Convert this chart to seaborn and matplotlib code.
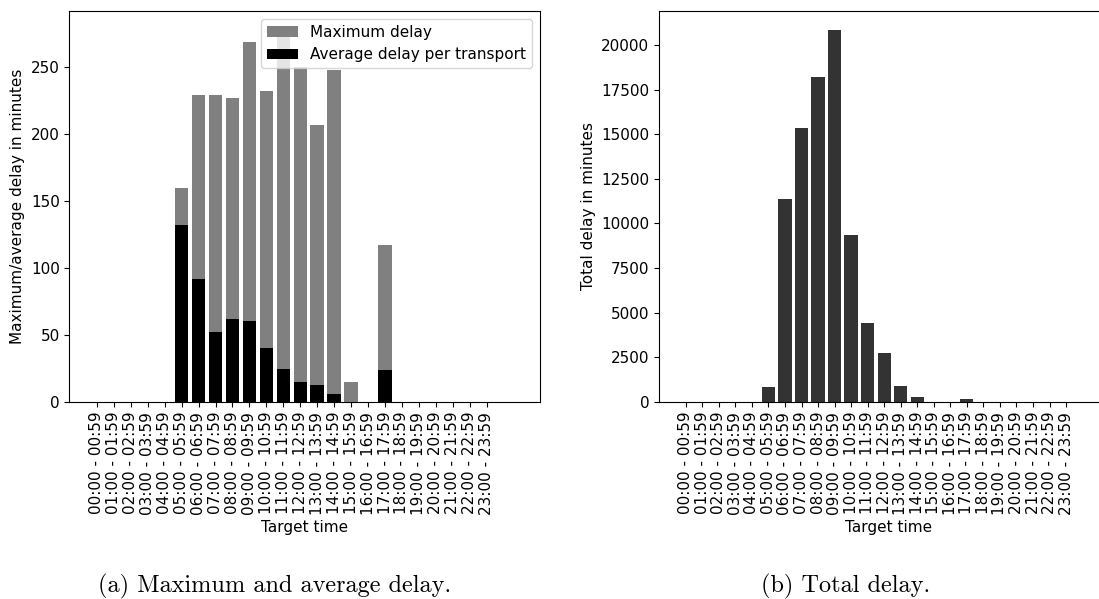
import matplotlib
matplotlib.use("Agg")
import matplotlib.pyplot as plt
import seaborn as sns
import pandas as pd

hours = [f"{h:02d}:00 - {h:02d}:59" for h in range(24)]
max_delay = [0, 0, 0, 0, 0, 160, 229, 229, 227, 269, 232, 278, 250, 207, 248, 15, 0, 117, 0, 0, 0, 0, 0, 0]
avg_delay = [0, 0, 0, 0, 0, 132.5, 91.5, 52, 61.7, 60.2, 40, 25, 14.7, 12.4, 5.7, 0, 0, 23.6, 0, 0, 0, 0, 0, 0]
total_delay = [0, 0, 0, 0, 0, 821, 11343, 15373, 18228, 20858, 9328, 4403, 2724, 877, 261, 0, 0, 149, 0, 0, 0, 0, 0, 0]

df = pd.DataFrame({"time": hours, "max": max_delay, "avg": avg_delay, "total": total_delay})

plt.rcParams["font.family"] = ["DejaVu Sans"]
plt.rcParams["font.size"] = 11

fig = plt.figure(figsize=(10.99, 5.99), dpi=100)
ax1 = fig.add_axes([0.0632, 0.3289, 0.4281, 0.6528])
ax2 = fig.add_axes([0.5996, 0.3289, 0.4177, 0.6528])

sns.barplot(data=df, x="time", y="max", color="gray", saturation=1, width=0.8,
            label="Maximum delay", ax=ax1, errorbar=None)
sns.barplot(data=df, x="time", y="avg", color="black", saturation=1, width=0.8,
            label="Average delay per transport", ax=ax1, errorbar=None)
ax1.set_xlim(-1.62, 26.14)
ax1.set_ylim(0, 292)
ax1.set_xlabel("Target time")
ax1.set_ylabel("Maximum/average delay in minutes")
ax1.tick_params(axis="x", rotation=90)
ax1.legend(loc="upper right", framealpha=0.8)

sns.barplot(data=df, x="time", y="total", color="#333333", saturation=1, width=0.8,
            ax=ax2, errorbar=None)
ax2.set_xlim(-1.62, 26.14)
ax2.set_ylim(0, 21900)
ax2.set_xlabel("Target time")
ax2.set_ylabel("Total delay in minutes")
ax2.tick_params(axis="x", rotation=90)

for ax in (ax1, ax2):
    for s in ax.spines.values():
        s.set_visible(True)
        s.set_color("black")

fig.text(98 / 1099, 1 - 592 / 599, "(a) Maximum and average delay.", ha="left", va="baseline",
         fontsize=17.5, family=["cmr10", "DejaVu Serif"])
fig.text(761 / 1099, 1 - 592 / 599, "(b) Total delay.", ha="left", va="baseline",
         fontsize=17.5, family=["cmr10", "DejaVu Serif"])

fig.savefig("out.png", dpi=100)
